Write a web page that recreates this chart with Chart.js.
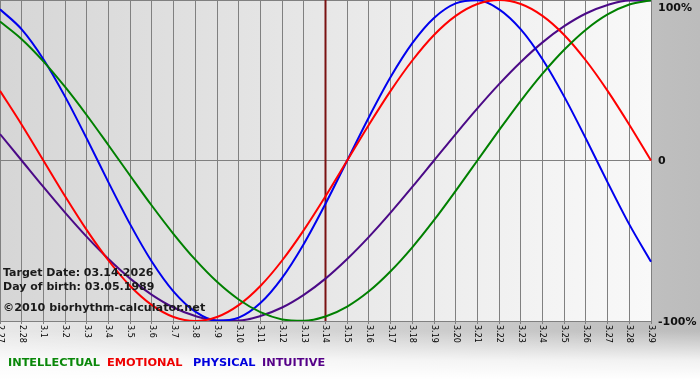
<!DOCTYPE html>
<html><head><meta charset="utf-8">
<script src="https://cdn.jsdelivr.net/npm/chart.js@4.4.1/dist/chart.umd.min.js"></script>
<style>html,body{margin:0;padding:0;background:#fff}#wrap{width:700px;height:380px;position:relative}</style>
</head><body><div id="wrap"><canvas id="c" width="700" height="380"></canvas></div>
<script>
const dates = ['2.27','2.28','3.1','3.2','3.3','3.4','3.5','3.6','3.7','3.8','3.9','3.10','3.11','3.12','3.13','3.14','3.15','3.16','3.17','3.18','3.19','3.20','3.21','3.22','3.23','3.24','3.25','3.26','3.27','3.28','3.29'];
const intellectual = [86.6,75.6,61.8,45.8,28.2,9.5,-9.5,-28.2,-45.8,-61.8,-75.6,-86.6,-94.5,-99.0,-99.9,-97.2,-91.0,-81.5,-69.0,-54.1,-37.2,-18.9,0,18.9,37.2,54.1,69.0,81.5,91.0,97.2,99.9];
const emotional = [43.4,22.3,0,-22.3,-43.4,-62.3,-78.2,-90.1,-97.5,-100,-97.5,-90.1,-78.2,-62.3,-43.4,-22.3,0,22.3,43.4,62.3,78.2,90.1,97.5,100,97.5,90.1,78.2,62.3,43.4,22.3,0];
const physical = [94.2,81.7,63.1,39.8,13.6,-13.6,-39.8,-63.1,-81.7,-94.2,-99.8,-97.9,-88.8,-73.1,-52.0,-27.0,0,27.0,52.0,73.1,88.8,97.9,99.8,94.2,81.7,63.1,39.8,13.6,-13.6,-39.8,-63.1];
const intuitive = [16.5,0,-16.5,-32.5,-47.6,-61.4,-73.6,-83.7,-91.6,-96.9,-99.7,-99.7,-96.9,-91.6,-83.7,-73.6,-61.4,-47.6,-32.5,-16.5,0,16.5,32.5,47.6,61.4,73.6,83.7,91.6,96.9,99.7,99.7];
const yTickValues = [100,0,-100];
const yTickLabels = ['100%','0','-100%'];
const targetDateLabel = '3.14';
const infoLines = ['Target Date: 03.14.2026','Day of birth: 03.05.1989'];
const copyright = '\u00A92010 biorhythm-calculator.net';

const FONT = '"DejaVu Sans", Verdana, sans-serif';

const decorPlugin = {
  id: 'decor',
  beforeDraw(chart) {
    const {ctx, chartArea: a, width, height} = chart;
    ctx.save();
    const g = ctx.createLinearGradient(0, 0, width, 0);
    g.addColorStop(0, '#e8e8e8'); g.addColorStop(1, '#bcbcbc');
    ctx.fillStyle = g; ctx.fillRect(0, 0, width, height);
    const v = ctx.createLinearGradient(0, a.bottom + 10, 0, height);
    v.addColorStop(0, 'rgba(255,255,255,0)');
    v.addColorStop(0.6, 'rgba(255,255,255,0.8)');
    v.addColorStop(1, 'rgba(255,255,255,1)');
    ctx.fillStyle = v; ctx.fillRect(0, a.bottom + 10, width, height - a.bottom - 10);
    const p = ctx.createLinearGradient(a.left, 0, a.right, 0);
    p.addColorStop(0, '#d6d6d6'); p.addColorStop(1, '#f9f9f9');
    ctx.fillStyle = p; ctx.fillRect(a.left, a.top, a.right - a.left, a.bottom - a.top);
    ctx.restore();
  },
  beforeDatasetsDraw(chart) {
    const {ctx, chartArea: a, scales} = chart;
    const x = scales.x.getPixelForValue(dates.indexOf(targetDateLabel));
    ctx.save();
    ctx.strokeStyle = '#7a1212'; ctx.lineWidth = 2;
    ctx.beginPath(); ctx.moveTo(x, a.top); ctx.lineTo(x, a.bottom); ctx.stroke();
    ctx.restore();
  },
  afterDraw(chart) {
    const {ctx, chartArea: a, scales} = chart;
    ctx.save();
    ctx.fillStyle = '#000';
    ctx.font = '8px ' + FONT;
    ctx.textAlign = 'left'; ctx.textBaseline = 'middle';
    dates.forEach((d, i) => {
      const x = scales.x.getPixelForValue(i);
      ctx.save();
      ctx.translate(x, a.bottom + 4);
      ctx.rotate(Math.PI / 2);
      ctx.fillText(d, 0, 0);
      ctx.restore();
    });
    ctx.font = 'bold 11px ' + FONT;
    ctx.fillStyle = '#111';
    yTickValues.forEach((val, i) => {
      let y = scales.y.getPixelForValue(val);
      y = Math.max(y, a.top + 7);
      ctx.fillText(yTickLabels[i], a.right + 7, y + 1);
    });
    ctx.textBaseline = 'alphabetic';
    ctx.fillStyle = '#1a1a1a';
    ctx.font = 'bold 11px ' + FONT;
    ctx.fillText(infoLines[0], 3, a.bottom - 45);
    ctx.fillText(infoLines[1], 3, a.bottom - 31);
    ctx.font = 'bold 11.2px ' + FONT;
    ctx.fillText(copyright, 3, a.bottom - 10);
    const lx = [8, 107, 193, 262];
    ctx.font = 'bold 11.3px ' + FONT;
    chart.data.datasets.forEach((ds, i) => {
      ctx.fillStyle = ds.legendColor;
      ctx.fillText(ds.label, lx[i], 366);
    });
    ctx.restore();
  }
};

new Chart(document.getElementById('c'), {
  type: 'line',
  data: {
    labels: dates,
    datasets: [
      {label: 'INTELLECTUAL', data: intellectual, borderColor: '#008000', legendColor: '#0a880a'},
      {label: 'EMOTIONAL', data: emotional, borderColor: '#ff0000', legendColor: '#ee0000'},
      {label: 'PHYSICAL', data: physical, borderColor: '#0000ee', legendColor: '#0000dd'},
      {label: 'INTUITIVE', data: intuitive, borderColor: '#4b0a87', legendColor: '#550088'}
    ].map(d => Object.assign(d, {borderWidth: 2, pointRadius: 0, cubicInterpolationMode: 'monotone', fill: false}))
  },
  options: {
    responsive: false,
    animation: false,
    devicePixelRatio: 1,
    layout: {padding: 0},
    plugins: {legend: {display: false}, tooltip: {enabled: false}},
    scales: {
      x: {
        offset: false,
        ticks: {display: false},
        grid: {color: '#808080', lineWidth: 1, drawTicks: true, tickLength: 3},
        border: {display: false},
        afterFit(s) { s.height = 59; }
      },
      y: {
        position: 'right',
        min: -100, max: 100,
        ticks: {display: false, stepSize: 100},
        grid: {color: '#808080', lineWidth: 1, drawTicks: false},
        border: {display: false},
        afterFit(s) { s.width = 49; }
      }
    }
  },
  plugins: [decorPlugin]
});
</script>
</body></html>
